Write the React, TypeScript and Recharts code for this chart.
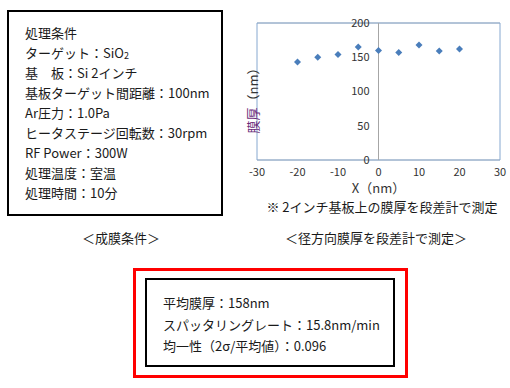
import React from "react";
import {
  CartesianGrid,
  ReferenceArea,
  ReferenceDot,
  ReferenceLine,
  Scatter,
  ScatterChart,
  XAxis,
  YAxis,
} from "recharts";

const positions = [-20, -15, -10, -5, 0, 5, 10, 15, 20];
const thickness = [143, 150, 154, 165, 160, 157, 168, 159, 162];
const xTicks = [-30, -20, -10, 0, 10, 20, 30];
const yTicks = [0, 50, 100, 150, 200];

const conditions = [
  "処理条件",
  "ターゲット：SiO2",
  "基　板：Si 2インチ",
  "基板ターゲット間距離：100nm",
  "Ar圧力：1.0Pa",
  "ヒータステージ回転数：30rpm",
  "RF Power：300W",
  "処理温度：室温",
  "処理時間：10分",
];

const results = [
  "平均膜厚：158nm",
  "スパッタリングレート：15.8nm/min",
  "均一性（2σ/平均値）：0.096",
];

const data = positions.map((x, i) => ({ x, y: thickness[i] }));

const FONT = "'Noto Sans CJK JP', 'Noto Sans', sans-serif";
const TEXT = "#1a1a1a";

function Diamond(props: any) {
  const { cx, cy } = props;
  const s = 3.5;
  return (
    <polygon
      points={`${cx},${cy - s} ${cx + s},${cy} ${cx},${cy + s} ${cx - s},${cy}`}
      fill="#4a7ebb"
    />
  );
}

function YLabel(props: any) {
  const { viewBox } = props;
  const x = viewBox.x + 12;
  const y = viewBox.y + viewBox.height / 2 + 6;
  return (
    <text
      x={x}
      y={y}
      transform={`rotate(-90 ${x} ${y})`}
      textAnchor="middle"
      dominantBaseline="central"
      fontSize={13}
      fontFamily={FONT}
    >
      <tspan fill="#6b2c7a">膜厚</tspan>
      <tspan fill="#333">（nm）</tspan>
    </text>
  );
}

function renderLine(line: string) {
  if (line.includes("SiO2")) {
    return (
      <>
        ターゲット：SiO
        <span
          style={{
            fontSize: 9,
            lineHeight: 0,
            position: "relative",
            top: 1,
          }}
        >
          2
        </span>
      </>
    );
  }
  return line;
}

export default function App() {
  return (
    <div
      style={{
        position: "absolute",
        left: 0,
        top: 0,
        width: 510,
        height: 388,
        background: "#fff",
        fontFamily: FONT,
        color: TEXT,
        fontSize: 13,
      }}
    >
      <div
        style={{
          position: "absolute",
          left: 7,
          top: 10,
          width: 216,
          height: 206,
          boxSizing: "border-box",
          border: "2px solid #000",
          padding: "11px 0 0 16px",
          whiteSpace: "nowrap",
        }}
      >
        {conditions.map((c) => (
          <div key={c} style={{ height: 20, lineHeight: "20px" }}>
            {renderLine(c)}
          </div>
        ))}
      </div>

      <div style={{ position: "absolute", left: 240, top: 0 }}>
        <ScatterChart
          width={270}
          height={200}
          margin={{ top: 23, right: 10, bottom: 10, left: 0 }}
        >
          <CartesianGrid vertical={false} stroke="#bfbfbf" />
          <XAxis
            type="number"
            dataKey="x"
            domain={[-30, 30]}
            ticks={xTicks}
            axisLine={false}
            tickLine={false}
            height={30}
            tick={{ fontSize: 11, fill: "#333", fontFamily: FONT }}
            label={{
              value: "X（nm）",
              position: "insideBottom",
              offset: -3,
              fontSize: 13,
              fill: "#333",
              fontFamily: FONT,
            }}
          />
          <YAxis
            type="number"
            dataKey="y"
            domain={[0, 200]}
            ticks={yTicks}
            width={17}
            tick={false}
            axisLine={false}
            tickLine={false}
            label={<YLabel />}
          />
          <ReferenceLine x={0} stroke="#a6a6a6" />
          {yTicks.map((v) => (
            <ReferenceDot
              key={v}
              x={0}
              y={v}
              r={0}
              fill="none"
              stroke="none"
              label={{
                value: v,
                position: "left",
                offset: 9,
                fontSize: 11,
                fill: "#333",
                fontFamily: FONT,
              }}
            />
          ))}
          <ReferenceArea
            x1={-30}
            x2={30}
            y1={0}
            y2={200}
            fill="none"
            fillOpacity={0}
            stroke="#86a8d0"
            strokeOpacity={1}
          />
          <Scatter
            data={data}
            shape={<Diamond />}
            isAnimationActive={false}
          />
        </ScatterChart>
      </div>

      <div
        style={{
          position: "absolute",
          left: 382,
          top: 200,
          transform: "translateX(-50%)",
          whiteSpace: "nowrap",
          lineHeight: "14px",
        }}
      >
        ※ 2インチ基板上の膜厚を段差計で測定
      </div>
      <div
        style={{
          position: "absolute",
          left: 121,
          top: 229,
          transform: "translateX(-50%)",
          whiteSpace: "nowrap",
          lineHeight: "18px",
        }}
      >
        ＜成膜条件＞
      </div>
      <div
        style={{
          position: "absolute",
          left: 376,
          top: 229,
          transform: "translateX(-50%)",
          whiteSpace: "nowrap",
          lineHeight: "18px",
        }}
      >
        ＜径方向膜厚を段差計で測定＞
      </div>

      <div
        style={{
          position: "absolute",
          left: 133,
          top: 268,
          width: 275,
          height: 110,
          boxSizing: "border-box",
          border: "3px solid #ff0000",
        }}
      />
      <div
        style={{
          position: "absolute",
          left: 145,
          top: 278,
          width: 250,
          height: 89,
          boxSizing: "border-box",
          border: "2px solid #000",
          padding: "12px 0 0 16px",
          lineHeight: "21.5px",
          whiteSpace: "nowrap",
        }}
      >
        {results.map((r) => (
          <div key={r}>{r}</div>
        ))}
      </div>
    </div>
  );
}
